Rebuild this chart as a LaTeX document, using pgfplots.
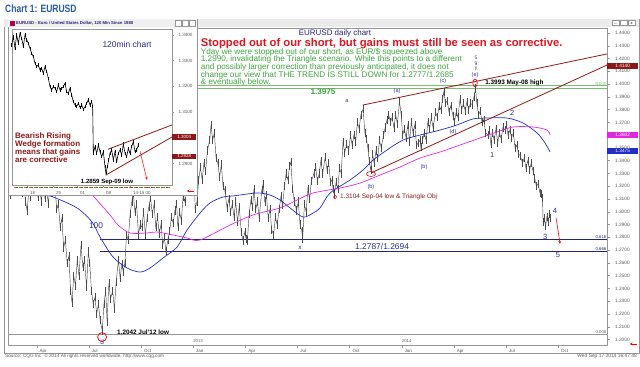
\documentclass[border=0pt]{standalone}
\usepackage{pgfplots}
\usepackage{pgfplotstable}
\pgfplotsset{compat=1.18}
\usepackage{fontspec}
\setmainfont{Liberation Sans}
\newfontfamily\narrowfont[FakeStretch=0.8]{Liberation Sans}
\usetikzlibrary{arrows.meta}
\definecolor{pricegray}{RGB}{75,75,75}
\definecolor{mablue}{RGB}{35,45,200}
\definecolor{mamag}{RGB}{225,40,225}
\definecolor{navyl}{RGB}{35,35,120}
\definecolor{wavelbl}{RGB}{45,45,150}
\definecolor{trendred}{RGB}{140,25,25}
\definecolor{headred}{RGB}{225,20,30}
\definecolor{txtgreen}{RGB}{60,165,60}
\definecolor{linegreen}{RGB}{120,190,110}
\definecolor{titleblue}{RGB}{40,90,165}
\definecolor{framec}{RGB}{150,150,150}
\definecolor{ticktxt}{RGB}{90,90,90}
\newcommand{\fs}[1]{\fontsize{#1}{#1}\selectfont}

\pgfplotstableread{
m p
1.36 1.3180
1.45 1.3130
1.57 1.3270
1.68 1.3180
1.77 1.3486
1.88 1.3380
1.97 1.3310
2.05 1.3385
2.15 1.3150
2.25 1.3260
2.35 1.3080
2.45 1.3010
2.55 1.3170
2.65 1.3120
2.75 1.3260
2.87 1.3200
2.97 1.3350
3.07 1.3120
3.17 1.3180
3.27 1.3080
3.37 1.3230
3.47 1.3110
3.57 1.3180
3.67 1.3060
3.77 1.3230
3.87 1.3150
3.97 1.3260
4.05 1.3200
4.15 1.3020
4.25 1.3060
4.35 1.2880
4.45 1.2950
4.55 1.2720
4.65 1.2780
4.75 1.2600
4.85 1.2650
4.95 1.2380
5.03 1.2290
5.13 1.2500
5.23 1.2420
5.33 1.2620
5.43 1.2500
5.55 1.2740
5.65 1.2570
5.75 1.2620
5.87 1.2410
5.97 1.2690
6.05 1.2600
6.15 1.2380
6.25 1.2280
6.35 1.2330
6.45 1.2200
6.55 1.2280
6.65 1.2150
6.77 1.2070
6.87 1.2280
6.97 1.2380
7.05 1.2140
7.15 1.2440
7.25 1.2320
7.37 1.2380
7.47 1.2240
7.57 1.2450
7.70 1.2620
7.80 1.2480
7.90 1.2590
7.98 1.2530
8.07 1.2600
8.17 1.2820
8.27 1.2780
8.37 1.2980
8.47 1.3080
8.55 1.3150
8.65 1.3000
8.75 1.3060
8.85 1.2820
8.95 1.2900
9.05 1.2880
9.15 1.3000
9.25 1.2820
9.35 1.2950
9.45 1.3040
9.55 1.3110
9.65 1.2980
9.75 1.3060
9.85 1.2880
9.95 1.2960
10.05 1.2830
10.15 1.2900
10.25 1.2740
10.35 1.2800
10.43 1.2690
10.55 1.2780
10.65 1.2850
10.75 1.2960
10.85 1.2910
10.95 1.3010
11.05 1.3060
11.12 1.2880
11.22 1.3000
11.32 1.2930
11.42 1.3120
11.52 1.3080
11.62 1.3280
11.72 1.3180
11.82 1.3250
11.95 1.3190
12.05 1.3300
12.12 1.3020
12.22 1.3080
12.32 1.3250
12.42 1.3350
12.52 1.3250
12.62 1.3380
12.72 1.3320
12.82 1.3480
12.95 1.3560
13.03 1.3680
13.12 1.3560
13.22 1.3620
13.32 1.3420
13.42 1.3380
13.52 1.3270
13.62 1.3370
13.72 1.3200
13.82 1.3170
13.95 1.3030
14.05 1.3100
14.15 1.3000
14.25 1.3060
14.35 1.2960
14.45 1.3080
14.55 1.2920
14.65 1.3040
14.77 1.2840
14.87 1.2775
14.97 1.2840
15.05 1.2790
15.12 1.2775
15.22 1.2980
15.32 1.3090
15.42 1.3040
15.50 1.3180
15.60 1.3020
15.70 1.3080
15.80 1.2950
15.95 1.3170
16.03 1.3220
16.12 1.3080
16.22 1.3130
16.32 1.2950
16.42 1.3020
16.52 1.2860
16.63 1.2820
16.73 1.2960
16.83 1.2900
16.95 1.3020
17.05 1.3120
17.15 1.3050
17.25 1.3200
17.35 1.3300
17.45 1.3250
17.55 1.3360
17.62 1.3390
17.72 1.3180
17.82 1.3080
17.95 1.3010
18.05 1.3080
18.15 1.2900
18.25 1.2850
18.30 1.2785
18.40 1.3060
18.50 1.3000
18.60 1.3180
18.70 1.3100
18.80 1.3240
18.95 1.3300
19.05 1.3350
19.15 1.3240
19.25 1.3300
19.35 1.3400
19.45 1.3300
19.60 1.3430
19.70 1.3330
19.80 1.3380
19.90 1.3230
19.98 1.3250
20.05 1.3180
20.12 1.3135
20.22 1.3230
20.32 1.3180
20.42 1.3340
20.52 1.3300
20.62 1.3545
20.72 1.3460
20.82 1.3530
20.95 1.3480
21.05 1.3600
21.15 1.3520
21.25 1.3600
21.35 1.3550
21.45 1.3700
21.55 1.3650
21.65 1.3760
21.78 1.3805
21.88 1.3620
21.97 1.3570
22.05 1.3500
22.13 1.3400
22.22 1.3325
22.32 1.3450
22.42 1.3380
22.52 1.3480
22.62 1.3420
22.72 1.3560
22.82 1.3500
22.95 1.3600
23.05 1.3660
23.15 1.3720
23.25 1.3760
23.35 1.3700
23.45 1.3740
23.55 1.3660
23.65 1.3760
23.75 1.3690
23.87 1.3865
23.97 1.3760
24.05 1.3600
24.15 1.3650
24.25 1.3580
24.35 1.3680
24.45 1.3550
24.55 1.3700
24.65 1.3620
24.75 1.3680
24.85 1.3520
24.95 1.3540
25.05 1.3560
25.10 1.3505
25.20 1.3560
25.30 1.3620
25.40 1.3560
25.50 1.3700
25.60 1.3650
25.70 1.3740
25.80 1.3660
25.95 1.3780
26.05 1.3740
26.15 1.3830
26.25 1.3800
26.35 1.3880
26.42 1.3940
26.52 1.3850
26.62 1.3870
26.72 1.3780
26.82 1.3830
26.95 1.3750
27.03 1.3700
27.13 1.3780
27.23 1.3740
27.35 1.3880
27.45 1.3800
27.55 1.3850
27.65 1.3790
27.75 1.3860
27.85 1.3800
27.95 1.3850
28.05 1.3840
28.15 1.3900
28.25 1.3965
28.32 1.3850
28.42 1.3760
28.52 1.3790
28.62 1.3700
28.72 1.3720
28.82 1.3620
28.95 1.3600
29.05 1.3640
29.13 1.3530
29.22 1.3620
29.32 1.3560
29.42 1.3650
29.52 1.3540
29.62 1.3620
29.72 1.3570
29.82 1.3660
29.95 1.3640
30.03 1.3680
30.12 1.3600
30.22 1.3640
30.32 1.3580
30.42 1.3620
30.52 1.3500
30.62 1.3520
30.72 1.3450
30.82 1.3440
30.95 1.3380
31.05 1.3420
31.15 1.3340
31.25 1.3400
31.35 1.3330
31.45 1.3380
31.55 1.3320
31.65 1.3260
31.75 1.3200
31.85 1.3220
31.95 1.3150
32.03 1.3140
32.10 1.3110
32.13 1.2920
32.20 1.2950
32.27 1.2890
32.35 1.2960
32.42 1.2920
32.50 1.2980
32.55 1.2950
}\pricedata

\pgfplotstableread{
m p
2.61 1.3171
3.938 1.3116
5.319 1.3030
6.182 1.2920
6.642 1.2803
7.390 1.2646
8.196 1.2560
8.944 1.2528
9.519 1.2560
10.267 1.2638
11.073 1.2724
11.648 1.2857
12.396 1.2990
12.971 1.3069
13.719 1.3116
14.295 1.3124
15.676 1.3147
16.424 1.3131
16.999 1.3092
17.575 1.3030
18.323 1.2959
18.898 1.2990
19.301 1.3030
19.876 1.3147
21.027 1.3249
21.775 1.3327
22.350 1.3405
23.156 1.3484
24.077 1.3562
25.055 1.3601
26.206 1.3640
27.184 1.3680
28.104 1.3727
28.910 1.3734
30.061 1.3734
30.982 1.3695
31.787 1.3617
32.248 1.3538
32.535 1.3468
}\mablue

\pgfplotstableread{
m p
5.95 1.3171
6.354 1.3108
7.217 1.2975
7.678 1.2896
8.368 1.2834
9.346 1.2834
9.922 1.2842
10.842 1.2818
11.648 1.2795
12.396 1.2779
14.122 1.2896
15.445 1.2975
16.999 1.3030
17.977 1.3092
18.898 1.3147
20.452 1.3186
21.602 1.3225
22.753 1.3288
23.904 1.3351
25.055 1.3421
26.206 1.3468
27.356 1.3523
28.507 1.3578
29.485 1.3625
30.406 1.3664
31.557 1.3664
32.362 1.3640
32.535 1.3601
}\mamag

\pgfplotstableread{
x p
11.67 1.33611
13.33 1.33935
15.00 1.33481
16.67 1.34000
18.33 1.33676
20.00 1.34065
21.67 1.33870
23.33 1.33546
25.00 1.34000
26.67 1.33805
28.33 1.33676
30.00 1.33481
31.67 1.33287
33.33 1.33157
35.00 1.32898
36.67 1.32768
38.33 1.32833
40.00 1.32638
41.67 1.32703
43.33 1.32508
45.00 1.32768
46.67 1.32573
48.33 1.32314
50.00 1.31990
51.67 1.31860
53.33 1.31990
55.00 1.31925
56.67 1.31795
58.33 1.32054
60.00 1.31860
61.67 1.31925
63.33 1.31990
65.00 1.32119
66.67 1.31795
68.33 1.31730
70.00 1.31925
71.67 1.31665
73.33 1.31406
75.00 1.31276
76.67 1.31211
78.33 1.31341
80.00 1.31185
81.67 1.31276
83.33 1.31108
85.00 1.31211
86.67 1.31341
88.33 1.31471
90.00 1.31276
91.67 1.31406
92.67 1.31211
93.33 1.29396
95.00 1.29655
96.67 1.29396
98.33 1.29720
100.00 1.29460
101.67 1.29266
103.33 1.29460
105.00 1.28877
106.00 1.28600
107.33 1.28877
108.67 1.29136
110.00 1.29396
111.67 1.29525
113.33 1.29136
115.00 1.29460
116.67 1.29071
118.33 1.29396
120.00 1.29525
121.67 1.29330
123.33 1.29759
125.00 1.29396
126.67 1.29266
128.33 1.29590
130.00 1.29396
131.67 1.29655
133.33 1.29850
135.00 1.29460
136.67 1.29525
138.33 1.29720
}\insetdata

\begin{document}
\begin{tikzpicture}[x=1bp,y=1bp]
\path (0,0) rectangle (640,366);
% page title
\node[anchor=base west, inner sep=0, text=titleblue, font=\narrowfont\bfseries\fs{10.7}] at (5,354) {Chart 1: EURUSD};
% main window
\draw[framec, line width=0.6pt] (4,13) rectangle (639.5,347);
\fill[black!8] (4.3,339) rectangle (639.2,346.7);
\foreach \bx in {612,620,628}{\draw[framec, fill=white, line width=0.3pt] (\bx,340.5) rectangle (\bx+7,345.5);}
\node[font=\fs{4}, inner sep=0] at (615.5,342.5) {\_};
\node[font=\fs{4}, inner sep=0] at (631.5,343) {x};

\coordinate (mainSW) at (8,21);
\begin{axis}[
  at={(mainSW)}, anchor=south west,
  width=599bp, height=317bp, scale only axis,
  xmin=1.348, xmax=35.81, ymin=1.19568, ymax=1.44391,
  clip=false,
  axis line style={draw=framec, line width=0.5pt},
  tick align=outside, major tick length=2.5bp,
  tick style={draw=framec, line width=0.4pt},
  ytick distance=0.01, ytick pos=right, yticklabel pos=right,
  /pgf/number format/assume math mode=true,
  yticklabel={\pgfmathprintnumber[fixed,fixed zerofill,precision=4]{\tick}},
  yticklabel style={font=\fs{4.8}, text=ticktxt, xshift=2bp},
  xtick={3,6,9,12,15,18,21,24,27,30,33}, xtick pos=bottom,
  xticklabels={Apr,Jul,Oct,Jan,Apr,Jul,Oct,Jan,Apr,Jul,Oct},
  xticklabel style={font=\fs{4.5}, text=ticktxt, anchor=north west, xshift=-0.5bp, yshift=2bp},
]
% horizontal reference lines
\addplot[framec, line width=0.4pt] coordinates {(1.348,1.2042) (35.81,1.2042)};
\addplot[navyl, line width=0.7pt] coordinates {(6.642,1.2787) (35.81,1.2787)};
\addplot[navyl, line width=0.7pt] coordinates {(6.642,1.2694) (35.81,1.2694)};
\addplot[linegreen, line width=0.5pt] coordinates {(12.17,1.3993) (35.81,1.3993)};
\addplot[linegreen, line width=0.5pt] coordinates {(12.17,1.3967) (35.81,1.3967)};
% price (bars approximated by ranges)
\addplot[pricegray, line width=0.45pt,
  error bars/.cd, y dir=both, y fixed=0.0032, error mark=none,
  error bar style={pricegray, line width=0.5pt}] table[x=m,y=p] {\pricedata};
% moving averages
\addplot[mablue, line width=0.7pt, smooth] table[x=m,y=p] {\mablue};
\addplot[mamag, line width=0.7pt, smooth] table[x=m,y=p] {\mamag};
% wedge trendlines
\addplot[trendred, line width=0.8pt] coordinates {(21.77,1.3836) (35.81,1.4236)};
\addplot[trendred, line width=0.8pt] coordinates {(22.23,1.3304) (35.81,1.4149)};
% circles
\draw[red, line width=0.6pt] (axis cs:22.23,1.3296) ellipse [x radius=4.5pt, y radius=2.5pt];
\draw[red, line width=0.7pt] (axis cs:28.22,1.4008) ellipse [x radius=2.2pt, y radius=4pt];
\draw[red, line width=0.7pt] (axis cs:6.76,1.2019) circle [radius=4.5pt];
\draw[red, line width=0.5pt] (axis cs:20.17,1.3116) circle [radius=1.6pt];
% arrow
\draw[red, line width=0.6pt, -{Stealth[length=3pt,width=2.5pt]}] (axis cs:32.88,1.2951) -- (axis cs:33.11,1.2748);
% annotations
\node[text=navyl, font=\fs{8}] at (axis cs:20.16,1.4394) {EURUSD daily chart};
\node[text=txtgreen, font=\bfseries\fs{8.2}] at (axis cs:19.47,1.3938) {1.3975};
\node[text=wavelbl, font=\fs{5.5}] at (axis cs:20.85,1.3867) {a};
\node[text=wavelbl, font=\fs{5.5}] at (axis cs:23.73,1.3946) {(a)};
\node[text=wavelbl, font=\fs{5.5}] at (axis cs:26.38,1.4020) {(c)};
\node[text=wavelbl, font=\fs{5.5}] at (axis cs:28.22,1.4071) {(e)};
\node[text=wavelbl, font=\fs{5}] at (axis cs:28.28,1.4119) {y};
\node[text=wavelbl, font=\fs{5}] at (axis cs:28.28,1.4158) {9};
\node[text=wavelbl, font=\fs{5}] at (axis cs:28.28,1.4205) {5};
\node[anchor=west, font=\bfseries\fs{6.4}, inner sep=0] at (axis cs:28.80,1.4008) {1.3993 May-08 high};
\node[text=wavelbl, font=\fs{5.5}] at (axis cs:22.23,1.3194) {(b)};
\node[text=wavelbl, font=\fs{5.5}] at (axis cs:25.28,1.3351) {(b)};
\node[text=wavelbl, font=\fs{5.5}] at (axis cs:26.95,1.3625) {(d)};
\node[text=wavelbl, font=\fs{7.5}] at (axis cs:29.20,1.3445) {1};
\node[text=wavelbl, font=\fs{7.5}] at (axis cs:30.35,1.3774) {2};
\node[text=wavelbl, font=\fs{7.5}] at (axis cs:32.25,1.2803) {3};
\node[text=wavelbl, font=\fs{7.5}] at (axis cs:32.82,1.3006) {4};
\node[text=wavelbl, font=\fs{7.5}] at (axis cs:32.99,1.2662) {5};
\node[text=wavelbl, font=\fs{6.5}] at (axis cs:18.15,1.2716) {x};
\node[text=wavelbl, font=\fs{6.5}] at (axis cs:6.76,1.1980) {d};
\node[anchor=west, font=\bfseries\fs{6.4}, inner sep=0] at (axis cs:7.62,1.2059) {1.2042 Jul'12 low};
\node[text=wavelbl, font=\fs{8.4}] at (axis cs:6.41,1.2889) {100};
\node[text=wavelbl, font=\fs{8.45}] at (axis cs:22.87,1.2732) {1.2787/1.2694};
\node[anchor=west, text=trendred, font=\fs{6.5}, inner sep=0] at (axis cs:20.45,1.3116) {1.3104 Sep-04 low \& Triangle Obj};
\node[anchor=west, font=\fs{4.3}, text=ticktxt, inner sep=0] at (axis cs:12.0,1.1985) {2013};
\node[anchor=west, font=\fs{4.3}, text=ticktxt, inner sep=0] at (axis cs:24.0,1.1985) {2014};
% small right-edge labels
\node[anchor=east, font=\fs{4.3}, text=linegreen, inner sep=0.5pt] at (axis cs:35.81,1.4003) {0.000};
\node[anchor=east, font=\fs{4.3}, text=navyl, inner sep=0.5pt] at (axis cs:35.81,1.2800) {0.618};
\node[anchor=east, font=\fs{4.3}, text=navyl, inner sep=0.5pt] at (axis cs:35.81,1.2707) {0.666};
\node[anchor=east, font=\fs{4.3}, text=ticktxt, inner sep=0.5pt] at (axis cs:35.81,1.2055) {0.000};
\coordinate (bxred) at (axis cs:35.81,1.4140);
\coordinate (bxmag) at (axis cs:35.81,1.3602);
\coordinate (bxblue) at (axis cs:35.81,1.3475);
\end{axis}
% right axis price boxes
\node[anchor=west, fill=trendred, text=white, font=\fs{4.8}, inner sep=0.6pt, minimum width=31bp, minimum height=6bp] at (bxred) {1.4140};
\node[anchor=west, fill=mamag, text=white, font=\fs{4.8}, inner sep=0.6pt, minimum width=31bp, minimum height=6bp] at (bxmag) {1.3602};
\node[anchor=west, fill=mablue, text=white, font=\fs{4.8}, inner sep=0.6pt, minimum width=31bp, minimum height=6bp] at (bxblue) {1.3475};
\draw[red, line width=0.9pt, -{Stealth[length=2.5pt,width=3pt]}] (637,22) -- (630,22);

% headline and comment
\node[anchor=base west, inner sep=0, text=headred, font=\bfseries\fs{11.3}] at (200.7,319.9) {Stopped out of our short, but gains must still be seen as corrective.};
\begin{scope}[every node/.style={anchor=base west, inner sep=0, text=txtgreen, font=\fs{8.2}}]
\node at (200.7,311.9) {Yday we were stopped out of our short, as EUR/\$ squeezed above};
\node at (200.7,304.2) {1.2990, invalidating the Triangle scenario. While this points to a different};
\node at (200.7,296.5) {and possibly larger correction than previously anticipated, it does not};
\node at (200.7,288.8) {change our view that THE TREND IS STILL DOWN for 1.2777/1.2685};
\node at (200.7,281.1) {\& eventually below.};
\end{scope}

% footer
\node[anchor=base west, inner sep=0, font=\fs{4.7}, text=ticktxt] at (5,8.5) {Source: CQG Inc. \textcopyright{} 2014 All rights reserved worldwide. http://www.cqg.com};
\node[anchor=base east, inner sep=0, font=\fs{4.9}, text=ticktxt] at (637,8.5) {Wed Sep 17 2014 16:47:48};

% ---------- inset window ----------
\fill[white] (8,171) rectangle (197,347);
\draw[framec, line width=0.6pt] (8,171) rectangle (197,347);
\fill[black!6] (8.3,338.5) rectangle (196.7,346.7);
\fill[red!70!blue] (10,340) rectangle (15,345);
\node[anchor=west, inner sep=0, font=\bfseries\fs{4.3}, text=navyl] at (16,342.6) {EURUSD - Euro / United States Dollar, 120 Min Since 1980};
\foreach \bx in {175,182,189}{\draw[framec, fill=white, line width=0.3pt] (\bx,340.3) rectangle (\bx+6,345.5);}
\coordinate (insetSW) at (12,181);
\begin{axis}[
  at={(insetSW)}, anchor=south west,
  width=160bp, height=156bp, scale only axis,
  xmin=12, xmax=172, ymin=1.28163, ymax=1.34233,
  clip=false,
  axis line style={draw=framec, line width=0.5pt},
  tick align=outside, major tick length=2bp,
  tick style={draw=framec, line width=0.4pt},
  ytick={1.29,1.31,1.32,1.33,1.34}, ytick pos=right, yticklabel pos=right,
  /pgf/number format/assume math mode=true,
  yticklabel={\pgfmathprintnumber[fixed,fixed zerofill,precision=4]{\tick}},
  yticklabel style={font=\fs{4.6}, text=ticktxt, xshift=1bp},
  xtick={27,53,77,103,130}, xtick pos=bottom,
  xticklabels={18,25,01,08,14-15 00},
  xticklabel style={font=\fs{4.5}, text=ticktxt, anchor=north west, xshift=-0.5bp, yshift=-1bp},
]
\addplot[black, line width=0.6pt,
  error bars/.cd, y dir=both, y fixed=0.0006, error mark=none,
  error bar style={black, line width=0.6pt}] table[x=x,y=p] {\insetdata};
\addplot[trendred, line width=0.8pt] coordinates {(108,1.29553) (172,1.30498)};
\addplot[trendred, line width=0.8pt] coordinates {(106,1.28553) (172,1.30031)};
\draw[red, line width=0.5pt, -{Stealth[length=3pt,width=2.5pt]}] (axis cs:140,1.29475) -- (axis cs:147,1.28358);
\node[text=wavelbl, font=\fs{8.5}] at (axis cs:127,1.3365) {120min chart};
\node[anchor=north west, align=left, text=trendred, font=\bfseries\fs{8}, inner sep=0] at (axis cs:15,1.3021) {\fontsize{8}{7.3}\selectfont Bearish Rising\\Wedge formation\\means that gains\\are corrective};
\node[font=\bfseries\fs{6.1}, inner sep=0] at (axis cs:107,1.2828) {1.2859 Sep-09 low};
\coordinate (ibx1) at (axis cs:172,1.3003);
\coordinate (ibx2) at (axis cs:172,1.2928);
\end{axis}
\node[anchor=west, fill=trendred, text=white, font=\fs{4.5}, inner sep=0.5pt, minimum width=24bp, minimum height=5.5bp] at (ibx1) {1.3003};
\node[anchor=west, fill=trendred, text=white, font=\fs{4.5}, inner sep=0.5pt, minimum width=24bp, minimum height=5.5bp] at (ibx2) {1.2928};
\draw[red!75, line width=0.8pt, dash pattern=on 2pt off 3pt] (14,178.5) -- (170,178.5);
\draw[green!60!black, line width=0.8pt, dash pattern=on 2pt off 3pt, dash phase=2.5pt] (14,178.5) -- (170,178.5);
\draw[red, line width=0.9pt, -{Stealth[length=2.5pt,width=3pt]}] (194,175) -- (187,175);
\end{tikzpicture}
\end{document}
